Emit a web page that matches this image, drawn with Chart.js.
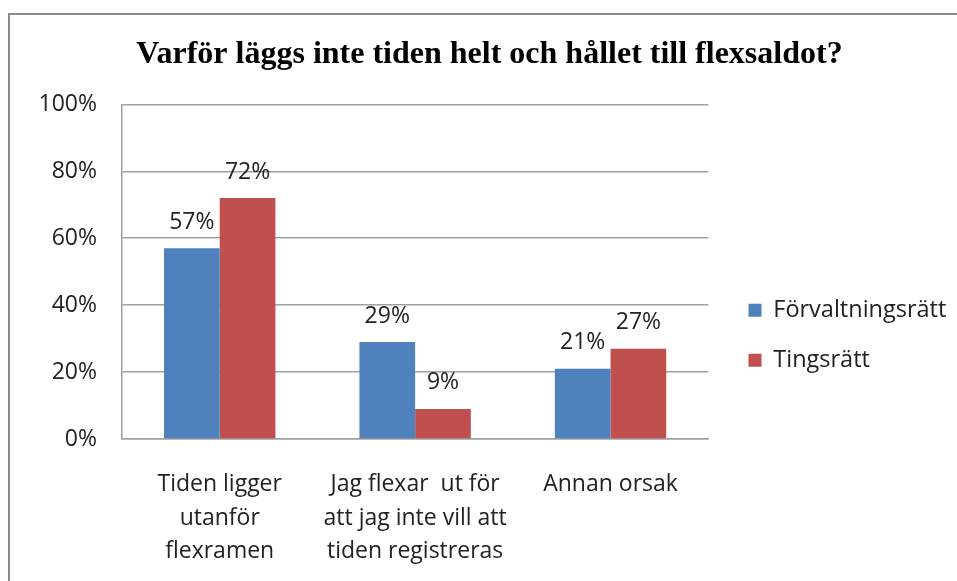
<!DOCTYPE html>
<html>
<head>
<meta charset="utf-8">
<script src="https://cdn.jsdelivr.net/npm/chart.js@4.4.1/dist/chart.umd.min.js"></script>
<style>
    html, body { margin: 0; padding: 0; background: #fff; overflow: hidden; }
    #frame {
        position: absolute; left: 8px; top: 13px; width: 980px; height: 600px;
        border-left: 2px solid #8c8c8c; border-top: 2px solid #8c8c8c;
    }
    #chart { position: absolute; left: 0; top: 0; }
</style>
</head>
<body>
<div id="frame"></div>
<canvas id="chart" width="957" height="581"></canvas>
<script>
const titleText = 'Varför läggs inte tiden helt och hållet till flexsaldot?';
const categories = [
    ['Tiden ligger', 'utanför', 'flexramen'],
    ['Jag flexar  ut för', 'att jag inte vill att', 'tiden registreras'],
    ['Annan orsak']
];
const seriesNames = ['Förvaltningsrätt', 'Tingsrätt'];
const forvaltningsratt = [57, 29, 21];
const tingsratt = [72, 9, 27];
const yTicks = [0, 20, 40, 60, 80, 100];

const gridColor = '#a0a0a0';
const textColor = '#222';
const labelFont = { family: 'Open Sans', size: 23 };

// value labels above each bar
const barLabels = {
    id: 'barLabels',
    afterDatasetsDraw(chart) {
        const ctx = chart.ctx;
        ctx.save();
        ctx.font = '23px "Open Sans"';
        ctx.fillStyle = textColor;
        ctx.textAlign = 'center';
        ctx.textBaseline = 'middle';
        chart.data.datasets.forEach((ds, i) => {
            chart.getDatasetMeta(i).data.forEach((bar, j) => {
                ctx.fillText(ds.data[j] + '%', bar.x, bar.y - 26);
            });
        });
        ctx.restore();
    }
};

// move legend and title blocks to where the original has them
const blockSpot = {
    id: 'blockSpot',
    afterLayout(chart) {
        const lg = chart.legend;
        lg.left = 722; lg.right = lg.left + lg.width;
        lg.top = 272; lg.bottom = lg.top + lg.height;
        const tb = chart.titleBlock;
        tb.left += 10; tb.right += 10;
    }
};

new Chart(document.getElementById('chart'), {
    type: 'bar',
    data: {
        labels: categories,
        datasets: [
            { label: seriesNames[0], data: forvaltningsratt, backgroundColor: '#4f81bd' },
            { label: seriesNames[1], data: tingsratt, backgroundColor: '#c0504d' }
        ]
    },
    options: {
        responsive: false,
        devicePixelRatio: 1,
        animation: false,
        layout: { padding: { left: 22, right: 20, top: 0, bottom: 10 } },
        datasets: { bar: { barPercentage: 1, categoryPercentage: 0.57 } },
        plugins: {
            title: {
                display: true,
                text: titleText,
                color: '#000',
                font: { family: 'Liberation Serif', size: 32, weight: 'bold' },
                padding: { top: 36, bottom: 30 }
            },
            legend: {
                position: 'right',
                align: 'start',
                labels: {
                    boxWidth: 13,
                    boxHeight: 13,
                    padding: 26.5,
                    color: textColor,
                    font: { family: 'Open Sans', size: 23.5 }
                }
            },
            tooltip: { enabled: false }
        },
        scales: {
            x: {
                afterFit(scale) { scale.height = 132; },
                grid: { display: false, drawTicks: false },
                border: { display: true, color: gridColor, width: 1.5 },
                ticks: { color: textColor, font: { family: 'Open Sans', size: 23, lineHeight: 1.46 }, padding: 29, maxRotation: 0 }
            },
            y: {
                min: 0,
                max: 100,
                afterBuildTicks(scale) { scale.ticks = yTicks.map(v => ({ value: v })); },
                afterFit(scale) { scale.width = 100; },
                grid: { color: gridColor, lineWidth: 1.5, drawTicks: false },
                border: { display: true, color: gridColor, width: 1.5 },
                ticks: { color: textColor, font: labelFont, padding: 25, callback: v => v + '%' }
            }
        }
    },
    plugins: [barLabels, blockSpot]
});
</script>
</body>
</html>
